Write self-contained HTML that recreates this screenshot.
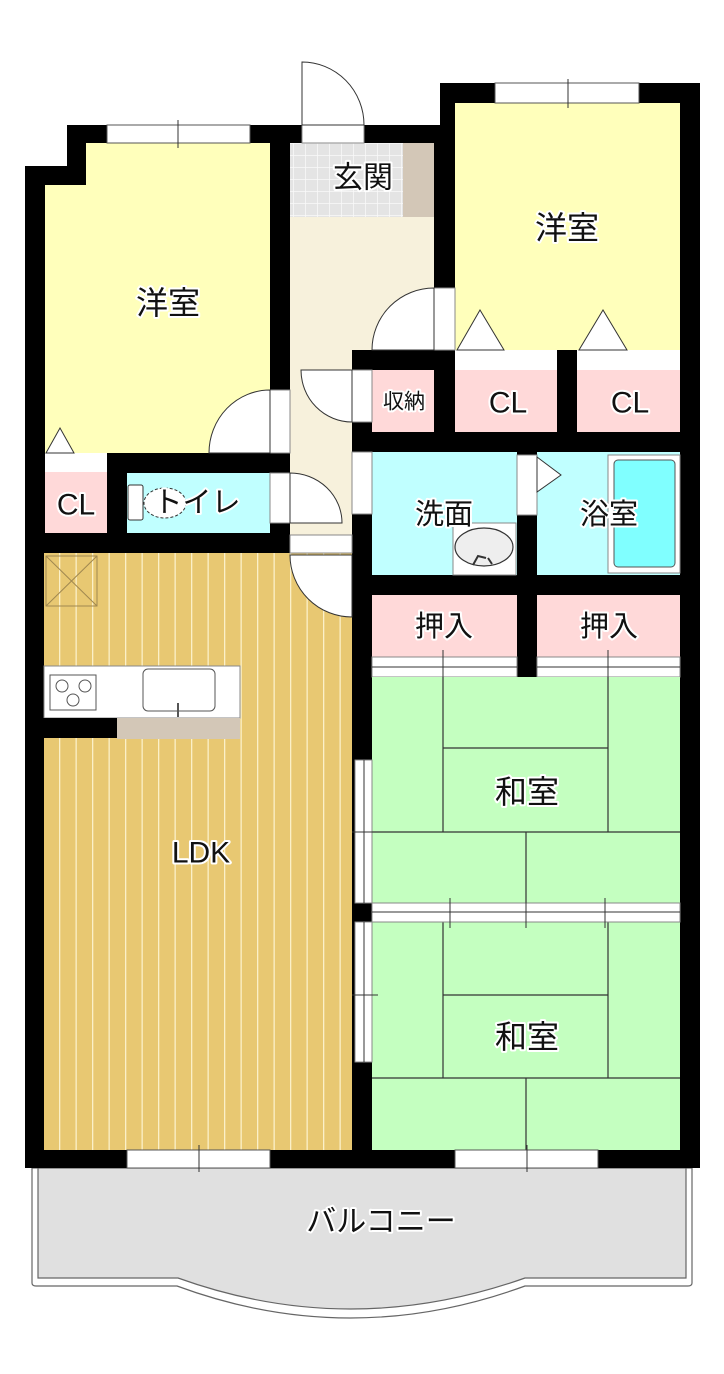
<!DOCTYPE html>
<html><head><meta charset="utf-8"><style>
html,body{margin:0;padding:0;background:#fff}
svg{display:block}
text{font-family:"Liberation Sans","Noto Sans CJK JP",sans-serif;fill:#111;stroke:#fff;stroke-width:4px;paint-order:stroke;stroke-linejoin:round;text-anchor:middle;dominant-baseline:central}
</style></head><body>
<svg width="724" height="1374" viewBox="0 0 724 1374" xmlns="http://www.w3.org/2000/svg">
<defs>
<pattern id="wood" x="44" y="0" width="16.5" height="10" patternUnits="userSpaceOnUse">
<rect width="16.5" height="10" fill="#e8c872"/><rect x="15" width="1.3" height="10" fill="#fbf0c8"/>
</pattern>
<pattern id="tile" x="293" y="143" width="12" height="12" patternUnits="userSpaceOnUse">
<rect width="12" height="12" fill="#e4e4e4"/><path d="M0 0H12M0 0V12" stroke="#fafafa" stroke-width="1.5"/>
</pattern>
</defs>
<path d="M32 1168 V1283 Q32 1286 36 1286 H177 Q350 1350 525 1286 H688 Q692 1286 692 1283 V1168 Z" fill="#fff" stroke="#666" stroke-width="1.2"/>
<path d="M38 1168 V1278 H178 Q350 1340 525 1278 H686 V1168 Z" fill="#e0e0e0" stroke="#666" stroke-width="1.2"/>
<path d="M25 166 H67 V125 H440 V83 H700 V1168 H25 Z" fill="#000"/>
<path d="M86 143 H270 V453 H45 V185 H86 Z" fill="#ffffbb"/>
<rect x="290" y="143" width="144" height="74" fill="url(#tile)"/>
<rect x="403" y="143" width="31" height="74" fill="#d3c7b7"/>
<rect x="290" y="217" width="62" height="318" fill="#f7f1dc"/>
<rect x="352" y="217" width="82" height="133" fill="#f7f1dc"/>
<rect x="455" y="103" width="225" height="247" fill="#ffffbb"/>
<rect x="455" y="350" width="102" height="20" fill="#fff"/>
<rect x="577" y="350" width="103" height="20" fill="#fff"/>
<rect x="455" y="370" width="102" height="62" fill="#ffd9d9"/>
<rect x="577" y="370" width="103" height="62" fill="#ffd9d9"/>
<rect x="372" y="370" width="62" height="62" fill="#ffd9d9"/>
<rect x="45" y="453" width="62" height="19" fill="#fff"/>
<rect x="45" y="472" width="62" height="61" fill="#ffd9d9"/>
<rect x="127" y="473" width="143" height="60" fill="#c0ffff"/>
<rect x="372" y="452" width="145" height="123" fill="#c0ffff"/>
<rect x="537" y="452" width="143" height="123" fill="#c0ffff"/>
<rect x="608" y="455" width="72" height="118" fill="#fff" stroke="#888" stroke-width="1"/>
<rect x="614" y="460" width="61" height="107" rx="4" fill="#80ffff" stroke="#555" stroke-width="1"/>
<rect x="453" y="523" width="63" height="52" fill="#fff" stroke="#888" stroke-width="1"/>
<ellipse cx="484" cy="547" rx="29" ry="19" fill="#eee" stroke="#333" stroke-width="1.2"/>
<path d="M473 565 l5 -9 l8 2 M488 558 l4 6" stroke="#333" stroke-width="2" fill="none"/>
<rect x="372" y="595" width="145" height="62" fill="#ffd9d9"/>
<rect x="537" y="595" width="143" height="62" fill="#ffd9d9"/>
<rect x="372" y="657" width="145" height="20" fill="#fff" stroke="#888" stroke-width="1"/>
<rect x="537" y="657" width="143" height="20" fill="#fff" stroke="#888" stroke-width="1"/>
<path d="M372 667H517M537 667H680M443 650V684M608 650V684" stroke="#333" stroke-width="1"/>
<rect x="372" y="677" width="308" height="226" fill="#c4ffc0"/>
<rect x="372" y="922" width="308" height="228" fill="#c4ffc0"/>
<g stroke="#333" stroke-width="1.2" fill="none">
<path d="M443 677V832M608 677V832M443 748H608M372 832H680M526 832V903"/>
<path d="M443 922V1078M608 922V1078M443 995H608M372 1078H680M526 1078V1150"/>
</g>
<rect x="372" y="903" width="308" height="19" fill="#fff" stroke="#888" stroke-width="1"/>
<path d="M372 912H680M450 898V928M526 898V928M605 898V928" stroke="#333" stroke-width="1"/>
<rect x="355" y="760" width="17" height="143" fill="#fff" stroke="#888" stroke-width="1"/>
<rect x="355" y="922" width="17" height="140" fill="#fff" stroke="#888" stroke-width="1"/>
<path d="M364 760V903M364 922V1062M348 832H378M348 995H378" stroke="#333" stroke-width="1"/>
<rect x="44" y="553" width="308" height="597" fill="url(#wood)"/>
<rect x="46" y="556" width="51" height="50" fill="none" stroke="#a08850" stroke-width="1"/>
<path d="M46 556L97 606M97 556L46 606" stroke="#a08850" stroke-width="1"/>
<rect x="44" y="666" width="196" height="52" fill="#fff" stroke="#888" stroke-width="1"/>
<rect x="50" y="675" width="46" height="35" fill="#fff" stroke="#555" stroke-width="1"/>
<circle cx="62" cy="686" r="6" fill="none" stroke="#555"/><circle cx="85" cy="686" r="6" fill="none" stroke="#555"/><circle cx="73" cy="700" r="6" fill="none" stroke="#555"/>
<rect x="143" y="669" width="72" height="42" rx="5" fill="#fff" stroke="#555" stroke-width="1"/>
<path d="M178 703V717" stroke="#555" stroke-width="2"/>
<rect x="117" y="718" width="123" height="21" fill="#d3c7b7"/>
<rect x="25" y="718" width="92" height="20" fill="#000"/>
<g fill="#fff" stroke="#555" stroke-width="1">
<rect x="107" y="125" width="143" height="18"/>
<rect x="495" y="83" width="144" height="20"/>
<rect x="127" y="1150" width="143" height="18"/>
<rect x="455" y="1150" width="143" height="18"/>
</g>
<path d="M178 120V148M568 79V108M199 1145V1172M527 1145V1172" stroke="#333" stroke-width="1"/>
<g fill="#fff" stroke="#333" stroke-width="1">
<rect x="302" y="125" width="62" height="18" stroke="#888"/>
<path d="M302 125V62A62 63 0 0 1 364 125Z"/>
<rect x="434" y="288" width="21" height="62" stroke="#888"/>
<path d="M434 288A62 62 0 0 0 372 350H434Z"/>
<rect x="270" y="390" width="20" height="63" stroke="#888"/>
<path d="M270 390A61 63 0 0 0 209 453H270Z"/>
<rect x="352" y="370" width="20" height="52" stroke="#888"/>
<path d="M352 370H301A51 52 0 0 0 352 422Z"/>
<rect x="270" y="473" width="20" height="50" stroke="#888"/>
<path d="M290 473A52 50 0 0 1 342 523H290Z"/>
<rect x="290" y="535" width="62" height="18" stroke="#888"/>
<path d="M290 555A62 62 0 0 0 352 617V555Z"/>
<rect x="352" y="452" width="20" height="62" stroke="#888"/>
<rect x="517" y="455" width="20" height="60" stroke="#888"/>
<path d="M537 457L561 475L537 492Z"/>
<path d="M46 453L60 428L74 453Z"/>
<path d="M457 350L480 310L504 350Z"/>
<path d="M579 350L603 310L627 350Z"/>
<rect x="128" y="485" width="15" height="35" rx="2"/>
<ellipse cx="165" cy="503" rx="21" ry="15" stroke-dasharray="3 2"/>
</g>
<g font-size="32">
<text x="168" y="303">洋室</text>
<text x="567" y="228">洋室</text>
<text x="527" y="792">和室</text>
<text x="527" y="1037">和室</text>
</g>
<g font-size="30">
<text x="201" y="853">LDK</text>
<text x="508" y="403">CL</text>
<text x="630" y="403">CL</text>
<text x="76" y="505">CL</text>
<text x="363" y="178">玄関</text>
<text x="381" y="1222">バルコニー</text>
</g>
<g font-size="29">
<text x="197" y="503">トイレ</text>
<text x="444" y="515">洗面</text>
<text x="609" y="515">浴室</text>
<text x="444" y="627">押入</text>
<text x="609" y="627">押入</text>
</g>
<text x="404" y="402" font-size="21">収納</text>
</svg>
</body></html>
